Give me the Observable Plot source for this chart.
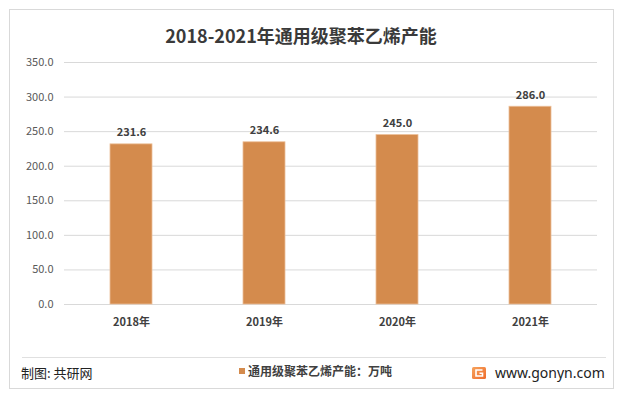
<!DOCTYPE html>
<html>
<head>
<meta charset="utf-8">
<script src="https://cdn.jsdelivr.net/npm/d3@7"></script>
<script src="https://cdn.jsdelivr.net/npm/@observablehq/plot@0.6"></script>
<style>
  html, body { margin: 0; padding: 0; background: #fff; }
  #wrap { position: relative; width: 619px; height: 395px; overflow: hidden; font-family: "Noto Sans CJK SC", "Noto Sans", sans-serif; }
  #frame { position: absolute; left: 9px; top: 9px; width: 605px; height: 380px; border: 1.5px solid #d9d9d9; box-sizing: border-box; }
  #title { position: absolute; left: 0; width: 602px; top: 22px; text-align: center; font-size: 18px; font-weight: bold; color: #3a3a3a; line-height: 26px; }
  #sep { position: absolute; left: 22px; width: 584px; top: 357px; height: 0; border-top: 1px solid #e0e0e0; }
  #credit { position: absolute; left: 21px; top: 364px; font-size: 13px; color: #222; line-height: 18px; }
  #legend { position: absolute; left: 239px; top: 362px; font-size: 12px; font-weight: bold; color: #404040; line-height: 18px; display: flex; align-items: center; }
  #legend .sw { width: 6px; height: 6px; background: #d48b4d; margin-right: 3px; }
  #site { position: absolute; left: 472px; top: 364px; font-size: 14px; color: #222; line-height: 18px; display: flex; align-items: center; font-family: "Noto Sans", "DejaVu Sans", sans-serif; }
  #site svg { margin-right: 9px; }
  #chart { position: absolute; left: 0; top: 0; }
</style>
</head>
<body>
<div id="wrap">
  <div id="frame"></div>
  <div id="chart"></div>
  <div id="title">2018-2021年通用级聚苯乙烯产能</div>
  <div id="sep"></div>
  <div id="credit">制图: 共研网</div>
  <div id="legend"><span class="sw"></span><span>通用级聚苯乙烯产能：万吨</span></div>
  <div id="site"><svg width="14" height="12" viewBox="0 0 14 12"><defs><linearGradient id="lg" x1="0" y1="0" x2="1" y2="1"><stop offset="0" stop-color="#f7a35c"/><stop offset="1" stop-color="#ee6b2c"/></linearGradient></defs><rect x="0" y="0" width="14" height="12" rx="1.5" fill="url(#lg)"/><path d="M10.5 3H4v6h6.5V6.2H7.5" fill="none" stroke="#fff" stroke-width="1.6"/></svg><span>www.gonyn.com</span></div>
</div>
<script>
const categories = ["2018年", "2019年", "2020年", "2021年"];
const values = [231.6, 234.6, 245.0, 286.0];
const yTicks = [0, 50, 100, 150, 200, 250, 300, 350];

const data = categories.map((c, i) => ({ year: c, value: values[i] }));

const chart = Plot.plot({
  width: 619,
  height: 395,
  marginTop: 62,
  marginBottom: 91,
  marginLeft: 64,
  marginRight: 22,
  style: { fontFamily: "'Noto Sans CJK SC', sans-serif", background: "transparent", overflow: "visible" },
  x: { domain: categories, paddingInner: 0.685, paddingOuter: 0.3425, label: null },
  y: { domain: [0, 350], label: null },
  marks: [
    Plot.gridY(yTicks, { stroke: "#d9d9d9", strokeOpacity: 1, strokeWidth: 1 }),
    Plot.barY(data, { x: "year", y: "value", fill: "#d48b4d", stroke: "#ecbf98", strokeWidth: 0.8 }),
    Plot.text(data, { x: "year", y: "value", text: d => d.value.toFixed(1), dy: -8, lineAnchor: "bottom", fontSize: 11, fontWeight: "bold", fill: "#404040" }),
    Plot.axisY({ ticks: yTicks, tickSize: 0, tickPadding: 11, tickFormat: d => d.toFixed(1), fontSize: 11, color: "#595959", label: null }),
    Plot.axisX({ tickSize: 0, tickPadding: 14, fontSize: 11, fontWeight: "bold", color: "#404040", label: null })
  ]
});
document.getElementById("chart").appendChild(chart);
</script>
</body>
</html>
